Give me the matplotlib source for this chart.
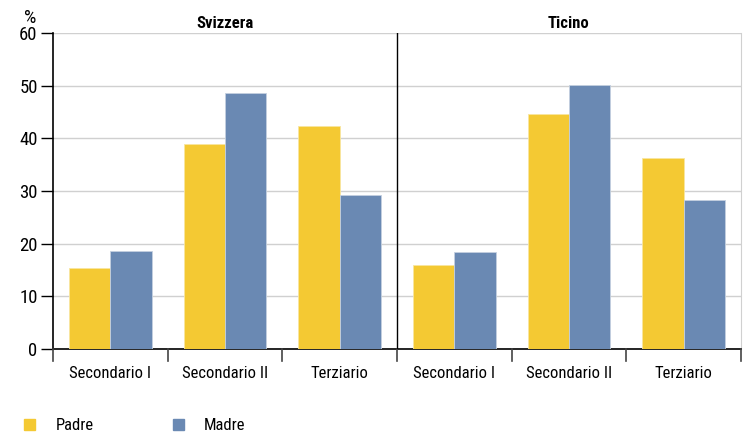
import numpy as np
import matplotlib
matplotlib.use("Agg")
import matplotlib.pyplot as plt

plt.rcParams['font.family'] = ['Roboto Condensed', 'DejaVu Sans']

regions = ["Svizzera", "Ticino"]
categories = ["Secondario I", "Secondario II", "Terziario"]
padre = {"Svizzera": [15.4, 38.9, 42.3], "Ticino": [15.9, 44.6, 36.3]}
madre = {"Svizzera": [18.6, 48.6, 29.3], "Ticino": [18.5, 50.2, 28.3]}
yticks = [0, 10, 20, 30, 40, 50, 60]

col_padre = "#F4C933"
col_madre = "#6A89B3"

fig = plt.figure(figsize=(7.47, 4.34), dpi=100)
ax = fig.add_axes([53/747, 1 - 349/434, (741 - 53)/747, (349 - 33)/434])

w = 0.36
for i, reg in enumerate(regions):
    x = np.arange(3) + 3 * i
    ax.bar(x - w/2, padre[reg], w, color=col_padre, edgecolor="#f8e6a0", linewidth=0.6, zorder=3)
    ax.bar(x + w/2, madre[reg], w, color=col_madre, edgecolor="#c4d0e0", linewidth=0.6, zorder=3)
    ax.text(3 * i + 1, 61.0, reg, ha="center", va="baseline", fontsize=12, fontweight="bold")

ax.set_xlim(-0.5, 5.5)
ax.set_ylim(0, 60)
ax.set_yticks(yticks)
ax.tick_params(axis="y", length=9, width=1, labelsize=13.5, pad=2)
ax.yaxis.grid(True, color="#d0d0d0", linewidth=1, zorder=0)

ax.set_xticks(np.arange(6))
ax.set_xticklabels(categories * 2, fontsize=12)
ax.tick_params(axis="x", length=0, pad=12)
# separator ticks below the axis
for b in np.arange(-0.5, 6, 1.0):
    ax.plot([b, b], [0, -2.2], color="#444444", linewidth=1.2, clip_on=False, zorder=4)

ax.axvline(2.5, color="black", linewidth=1, zorder=4)
ax.spines["top"].set_visible(False)
ax.spines["right"].set_color("#d0d0d0")
ax.spines["left"].set_linewidth(1.2)
ax.spines["bottom"].set_linewidth(1.2)

fig.text(30/747, 1 - 18/434, "%", ha="center", va="center", fontsize=14)

# legend
fig.patches.append(plt.Rectangle((24/747, 1 - 430/434), 11/747, 11/434, color=col_padre, transform=fig.transFigure))
fig.text(56/747, 1 - 425/434, "Padre", ha="left", va="center", fontsize=12)
fig.patches.append(plt.Rectangle((173/747, 1 - 430/434), 11/747, 11/434, color=col_madre, transform=fig.transFigure))
fig.text(204/747, 1 - 425/434, "Madre", ha="left", va="center", fontsize=12)

fig.savefig("out.png", dpi=100)
